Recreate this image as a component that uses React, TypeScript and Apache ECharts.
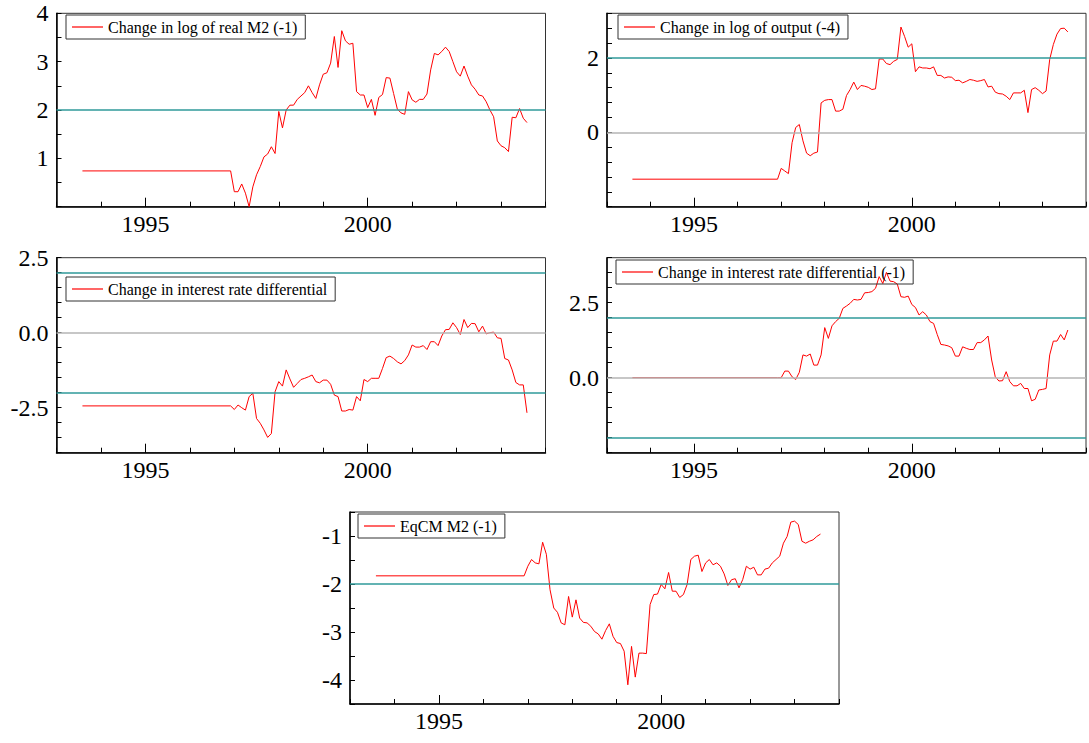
import React, { useEffect, useRef } from "react";
import * as echarts from "echarts";

// ---- data (monthly, recursive estimates from 1996(12) to 2003(8); flat initial value from 1993(8)) ----
const FLAT_START = 1993 + 7 / 12;
const REC_START_YEAR = 1996;
const REC_START_MONTH = 12;

const names = [
  "Change in log of real M2 (-1)",
  "Change in log of output (-4)",
  "Change in interest rate differential",
  "Change in interest rate differential (-1)",
  "EqCM M2 (-1)",
];

const realM2Lag1 = [
  0.74, 0.31, 0.31, 0.47, 0.28, 0.0, 0.41, 0.66, 0.83, 1.03,
  1.09, 1.24, 1.1, 1.97, 1.63, 2.0, 2.1, 2.1, 2.22, 2.29,
  2.36, 2.5, 2.36, 2.24, 2.52, 2.74, 2.77, 2.97, 3.52, 2.88,
  3.64, 3.43, 3.36, 3.38, 2.38, 2.31, 2.31, 2.05, 2.22, 1.89,
  2.26, 2.32, 2.67, 2.66, 2.34, 2.02, 1.94, 1.91, 2.38, 2.21,
  2.16, 2.22, 2.22, 2.33, 2.83, 3.17, 3.14, 3.21, 3.3, 3.21,
  3.0, 2.79, 2.7, 2.91, 2.7, 2.52, 2.43, 2.31, 2.29, 2.17,
  2.0, 1.86, 1.36, 1.26, 1.22, 1.14, 1.85, 1.84, 2.03, 1.83,
  1.74,
];

const outputLag4 = [
  -1.26, -0.97, -1.04, -1.11, -0.28, 0.13, 0.21, -0.23, -0.56, -0.63,
  -0.56, -0.53, 0.79, 0.86, 0.88, 0.88, 0.57, 0.57, 0.62, 0.99,
  1.15, 1.35, 1.15, 1.26, 1.24, 1.21, 1.15, 1.17, 1.97, 1.97,
  1.85, 1.82, 1.91, 1.96, 2.83, 2.58, 2.29, 2.38, 1.63, 1.76,
  1.73, 1.73, 1.71, 1.76, 1.53, 1.53, 1.46, 1.49, 1.48, 1.39,
  1.4, 1.33, 1.37, 1.42, 1.4, 1.37, 1.39, 1.42, 1.22, 1.24,
  1.08, 1.04, 1.03, 0.97, 0.88, 1.06, 1.06, 1.06, 1.13, 0.53,
  1.15, 1.2, 1.13, 1.04, 1.11, 1.96, 2.36, 2.64, 2.79, 2.8,
  2.7,
];

const interestDiff = [
  -2.44, -2.56, -2.41, -2.5, -2.58, -2.13, -2.02, -2.86, -3.02, -3.24,
  -3.49, -3.36, -1.97, -1.63, -1.78, -1.24, -1.54, -1.82, -1.69, -1.56,
  -1.52, -1.47, -1.41, -1.63, -1.67, -1.58, -1.58, -1.72, -2.08, -2.13,
  -2.61, -2.61, -2.56, -2.58, -2.13, -2.27, -1.56, -1.63, -1.52, -1.52,
  -1.52, -1.19, -0.83, -0.78, -0.86, -0.97, -1.04, -0.93, -0.74, -0.41,
  -0.48, -0.48, -0.43, -0.56, -0.3, -0.3, -0.43, -0.11, 0.1, 0.11,
  0.33, 0.17, -0.06, 0.44, 0.17, 0.31, 0.3, 0.03, 0.22, -0.04,
  0.0, 0.02, -0.17, -0.19, -0.86, -0.91, -1.24, -1.66, -1.74, -1.74,
  -2.67,
];

const interestDiffLag1 = [
  0.0, 0.0, 0.22, 0.22, 0.03, -0.06, 0.18, 0.76, 0.72, 0.79,
  0.42, 0.42, 0.76, 1.67, 1.31, 1.73, 1.87, 1.98, 2.31, 2.39,
  2.48, 2.61, 2.59, 2.61, 2.83, 2.84, 2.87, 2.98, 3.37, 3.14,
  3.51, 3.22, 3.2, 3.12, 2.7, 2.68, 2.72, 2.44, 2.34, 2.09,
  2.2, 2.09, 1.87, 1.81, 1.44, 1.11, 1.09, 1.06, 1.0, 0.72,
  0.72, 1.03, 0.98, 0.94, 0.94, 1.17, 1.17, 1.26, 1.39, 0.59,
  0.03, -0.11, -0.1, 0.2, -0.13, -0.27, -0.27, -0.19, -0.36, -0.36,
  -0.77, -0.72, -0.41, -0.39, -0.36, 0.76, 1.22, 1.22, 1.44, 1.26,
  1.59,
];

const eqcmLag1 = [
  -1.83, -1.63, -1.49, -1.56, -1.58, -1.13, -1.38, -2.12, -2.5, -2.59,
  -2.81, -2.85, -2.26, -2.69, -2.33, -2.71, -2.8, -2.81, -2.88, -2.99,
  -3.04, -3.15, -2.97, -2.83, -3.09, -3.22, -3.24, -3.4, -4.1, -3.3,
  -3.94, -3.44, -3.44, -3.45, -2.43, -2.22, -2.21, -2.01, -2.1, -1.76,
  -2.15, -2.15, -2.28, -2.22, -2.01, -1.49, -1.42, -1.4, -1.74, -1.56,
  -1.49, -1.6, -1.56, -1.63, -1.79, -2.03, -1.91, -1.89, -2.08, -1.91,
  -1.63, -1.69, -1.65, -1.81, -1.81, -1.69, -1.67, -1.56, -1.49, -1.42,
  -1.15, -1.01, -0.71, -0.69, -0.76, -1.11, -1.15, -1.11, -1.08, -1.01,
  -0.96,
];

const allValues = [realM2Lag1, outputLag4, interestDiff, interestDiffLag1, eqcmLag1];

// axis ranges / ticks / labels
const xMin = 1993;
const xMax = 2004;
const xLabels = [1995, 2000];

const yMins = [0, -2, -4, -2.5, -4.5];
const yMaxs = [4, 3.2, 2.5, 4, -0.5];
const yTickSteps = [0.5, 0.4, 0.5, 0.5, 0.5];
const yLabels = [
  [1, 2, 3, 4],
  [0, 2],
  [-2.5, 0, 2.5],
  [0, 2.5],
  [-4, -3, -2, -1],
];
const yDecimals = [0, 0, 1, 1, 0];

// reference lines per panel: critical values +-2 (teal) and zero (grey)
const tealLines = [[2], [2], [2, -2], [2, -2], [-2]];
const greyLines = [[], [0], [0], [0], []];

// ---- layout (pixels) ----
const panels = [
  { left: 56.5, top: 13.3, width: 489, height: 193.4, legLeft: 66, legTop: 15 },
  { left: 607, top: 13.3, width: 490, height: 193.4, legLeft: 618, legTop: 15 },
  { left: 56.5, top: 257.7, width: 489, height: 195, legLeft: 66, legTop: 277 },
  { left: 607, top: 257.7, width: 490, height: 195, legLeft: 616, legTop: 260 },
  { left: 350, top: 512, width: 489, height: 192, legLeft: 358, legTop: 514 },
];

const FONT = "Liberation Serif, DejaVu Serif, serif";
const AXIS_FONT_SIZE = 24;
const RED = "#ff0000";
const TEAL = "#2f9a9a";
const GREY = "#b4b4b4";

function buildSeriesData(vals: number[]) {
  const pts: number[][] = [[FLAT_START, vals[0]]];
  vals.forEach((v, k) => {
    pts.push([REC_START_YEAR + (REC_START_MONTH - 1 + k) / 12, v]);
  });
  return pts;
}

function buildOption() {
  const grid: any[] = [];
  const xAxis: any[] = [];
  const yAxis: any[] = [];
  const series: any[] = [];
  const legend: any[] = [];

  panels.forEach((p, i) => {
    grid.push({
      left: p.left,
      top: p.top,
      width: p.width,
      height: p.height,
      show: true,
      borderColor: "#333",
      borderWidth: 1,
      backgroundColor: "transparent",
    });
    xAxis.push({
      type: "value",
      gridIndex: i,
      min: xMin,
      max: xMax,
      interval: 1,
      position: "bottom",
      axisLine: { show: true, onZero: false, lineStyle: { color: "#000", width: 1.5 } },
      axisTick: { show: true, inside: true, length: 5, lineStyle: { color: "#000", width: 1 } },
      axisLabel: {
        show: true,
        margin: 5,
        color: "#000",
        fontSize: AXIS_FONT_SIZE,
        fontFamily: FONT,
        formatter: (v: number) => (xLabels.some((l) => Math.abs(l - v) < 1e-6) ? String(Math.round(v)) : ""),
      },
      splitLine: { show: false },
    });
    xAxis.push({
      type: "value",
      gridIndex: i,
      min: xMin,
      max: xMax,
      position: "bottom",
      axisLine: { show: false, onZero: false },
      axisTick: { show: true, inside: true, length: 9, customValues: xLabels, lineStyle: { color: "#000", width: 1 } },
      axisLabel: { show: false },
      splitLine: { show: false },
    });
    yAxis.push({
      type: "value",
      gridIndex: i,
      min: yMins[i],
      max: yMaxs[i],
      interval: yTickSteps[i],
      axisLine: { show: true, onZero: false, lineStyle: { color: "#000", width: 1.5 } },
      axisTick: { show: true, inside: true, length: 5, lineStyle: { color: "#000", width: 1 } },
      axisLabel: {
        show: true,
        margin: 8,
        color: "#000",
        fontSize: AXIS_FONT_SIZE,
        fontFamily: FONT,
        showMinLabel: true,
        showMaxLabel: true,
        formatter: (v: number) =>
          yLabels[i].some((l) => Math.abs(l - v) < 1e-6) ? v.toFixed(yDecimals[i]) : "",
      },
      splitLine: { show: false },
    });

    const refData: any[] = [];
    tealLines[i].forEach((y) => refData.push({ yAxis: y, lineStyle: { color: TEAL, width: 1.5, type: "solid" } }));
    greyLines[i].forEach((y) => refData.push({ yAxis: y, lineStyle: { color: GREY, width: 1.5, type: "solid" } }));
    series.push({
      type: "line",
      name: "ref" + i,
      xAxisIndex: 2 * i,
      yAxisIndex: i,
      data: [],
      z: 1,
      silent: true,
      markLine: {
        silent: true,
        symbol: ["none", "none"],
        label: { show: false },
        animation: false,
        data: refData,
      },
    });

    series.push({
      type: "line",
      name: names[i],
      xAxisIndex: 2 * i,
      yAxisIndex: i,
      data: buildSeriesData(allValues[i]),
      symbol: "none",
      showSymbol: false,
      z: 3,
      lineStyle: { color: RED, width: 1 },
      itemStyle: { color: RED },
    });

    legend.push({
      data: [names[i]],
      left: p.legLeft,
      top: p.legTop,
      orient: "horizontal",
      icon: "rect",
      itemWidth: 31,
      itemHeight: 1.2,
      padding: [4, 8, 4, 6],
      borderColor: "#333",
      borderWidth: 1,
      borderRadius: 0,
      backgroundColor: "transparent",
      selectedMode: false,
      textStyle: { fontSize: 16, fontFamily: FONT, color: "#000" },
    });
  });

  return {
    animation: false,
    backgroundColor: "#ffffff",
    textStyle: { fontFamily: FONT },
    grid,
    xAxis,
    yAxis,
    legend,
    series,
  };
}

export default function App() {
  const ref = useRef<HTMLDivElement>(null);
  useEffect(() => {
    if (!ref.current) return;
    const chart = echarts.init(ref.current, undefined, { renderer: "svg" });
    chart.setOption(buildOption() as any);
    return () => {
      chart.dispose();
    };
  }, []);
  return (
    <div
      ref={ref}
      style={{ position: "fixed", left: 0, top: 0, width: 1089, height: 743, background: "#fff" }}
    />
  );
}
